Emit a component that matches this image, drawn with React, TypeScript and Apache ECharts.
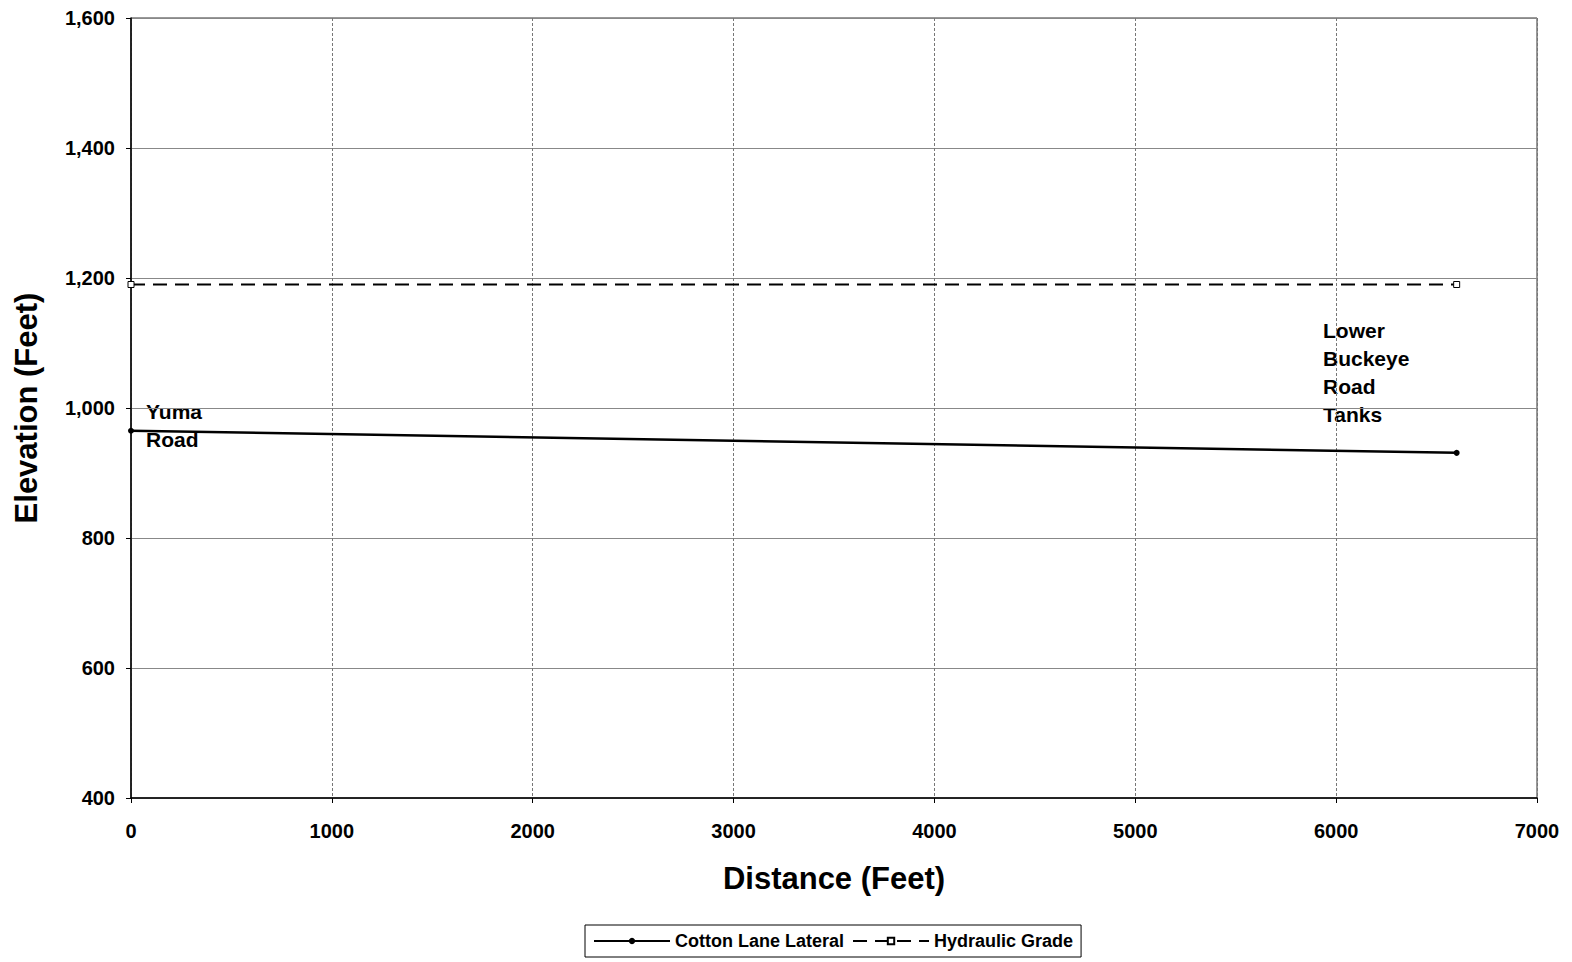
import React, { useEffect, useRef } from "react";
import * as echarts from "echarts";

const distanceTicks = [0, 1000, 2000, 3000, 4000, 5000, 6000, 7000];
const cottonLaneDistance = [0, 6600];
const cottonLaneElevation = [965, 931];
const hydraulicDistance = [0, 6600];
const hydraulicElevation = [1190, 1190];
const yumaLabel = ["Yuma", "Road"];
const lowerBuckeyeLabel = ["Lower", "Buckeye", "Road", "Tanks"];

const FONT = "'Liberation Sans', Arial, sans-serif";

export default function App() {
  const ref = useRef<HTMLDivElement>(null);
  useEffect(() => {
    if (!ref.current) return;
    const chart = echarts.init(ref.current, undefined, { renderer: "svg" });
    const cotton = cottonLaneDistance.map((d, i) => [d, cottonLaneElevation[i]]);
    const hydraulic = hydraulicDistance.map((d, i) => [d, hydraulicElevation[i]]);
    chart.setOption({
      animation: false,
      backgroundColor: "#fff",
      textStyle: { fontFamily: FONT },
      grid: {
        left: 131,
        right: 35,
        top: 18,
        bottom: 164,
        show: true,
        borderColor: "#333",
        borderWidth: 1,
      },
      xAxis: {
        type: "value",
        min: distanceTicks[0],
        max: distanceTicks[distanceTicks.length - 1],
        interval: 1000,
        name: "Distance (Feet)",
        nameLocation: "middle",
        nameGap: 65,
        nameTextStyle: { fontSize: 31, fontWeight: "bold", color: "#000", fontFamily: FONT },
        axisLine: { lineStyle: { color: "#000", width: 1.5 } },
        axisTick: { show: true, length: 5, lineStyle: { color: "#000" } },
        axisLabel: {
          fontSize: 20,
          fontWeight: "bold",
          color: "#000",
          margin: 23,
          fontFamily: FONT,
          formatter: (v: number) => String(v),
        },
        splitLine: { show: true, lineStyle: { color: "#777", width: 1, type: [3, 2] } },
      },
      yAxis: {
        type: "value",
        min: 400,
        max: 1600,
        interval: 200,
        name: "Elevation (Feet)",
        nameLocation: "middle",
        nameGap: 89,
        nameRotate: 90,
        nameTextStyle: { fontSize: 31, fontWeight: "bold", color: "#000", fontFamily: FONT },
        axisLine: { show: true, lineStyle: { color: "#000", width: 1.5 } },
        axisTick: { show: true, length: 5, lineStyle: { color: "#000" } },
        axisLabel: {
          fontSize: 20,
          fontWeight: "bold",
          color: "#000",
          margin: 16,
          fontFamily: FONT,
          formatter: (v: number) => v.toLocaleString("en-US"),
        },
        splitLine: { show: true, lineStyle: { color: "#888", width: 1 } },
      },
      legend: {
        bottom: 5,
        left: 585,
        itemWidth: 76,
        itemHeight: 8,
        itemGap: 8,
        borderColor: "#000",
        borderWidth: 1,
        padding: [7, 8, 7, 8],
        textStyle: { fontSize: 18, fontWeight: "bold", color: "#000", fontFamily: FONT },
        data: ["Cotton Lane Lateral", "Hydraulic Grade"],
      },
      series: [
        {
          name: "Cotton Lane Lateral",
          type: "line",
          data: cotton,
          symbol: "circle",
          symbolSize: 6,
          itemStyle: { color: "#000" },
          lineStyle: { color: "#000", width: 2.5 },
        },
        {
          name: "Hydraulic Grade",
          type: "line",
          data: hydraulic,
          symbol: "rect",
          symbolSize: 6,
          itemStyle: { color: "#fff", borderColor: "#000", borderWidth: 1 },
          lineStyle: { color: "#000", width: 2, type: [14, 8] },
        },
      ],
      graphic: [
        {
          type: "text",
          left: 146,
          top: 397,
          style: {
            text: yumaLabel.join("\n"),
            fontSize: 21,
            fontWeight: "bold",
            lineHeight: 28,
            fill: "#000",
            fontFamily: FONT,
          },
        },
        {
          type: "text",
          left: 1323,
          top: 316,
          style: {
            text: lowerBuckeyeLabel.join("\n"),
            fontSize: 21,
            fontWeight: "bold",
            lineHeight: 28,
            fill: "#000",
            fontFamily: FONT,
          },
        },
      ],
    });
    return () => chart.dispose();
  }, []);
  return (
    <div
      ref={ref}
      style={{ position: "absolute", left: 0, top: 0, width: 1572, height: 962 }}
    />
  );
}
